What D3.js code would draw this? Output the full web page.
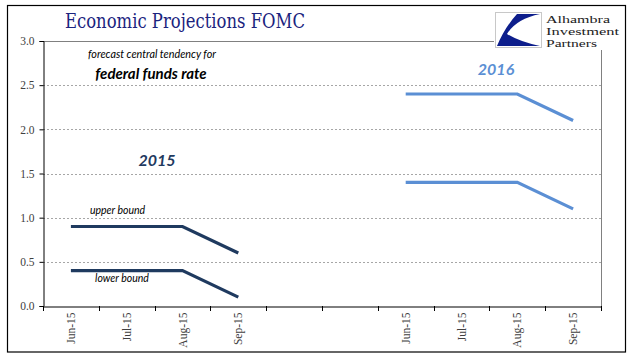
<!DOCTYPE html>
<html><head><meta charset="utf-8">
<script src="https://cdn.jsdelivr.net/npm/d3@7"></script>
<style>body{margin:0;background:#fff}svg{display:block}</style>
</head><body><svg id="c" width="641" height="358"></svg>
<script>
const categories = ["Jun-15","Jul-15","Aug-15","Sep-15","","","Jun-15","Jul-15","Aug-15","Sep-15"];
const yTicks = [0,0.5,1.0,1.5,2.0,2.5,3.0];
const upper2015 = [0.9,0.9,0.9,0.6];
const lower2015 = [0.4,0.4,0.4,0.1];
const upper2016 = [2.4,2.4,2.4,2.1];
const lower2016 = [1.4,1.4,1.4,1.1];
const idx2015 = [0,1,2,3];
const idx2016 = [6,7,8,9];

const svg = d3.select("#c");
const L=43,R=601,T=41,B=306;
svg.append("rect").attr("x",7.5).attr("y",5.5).attr("width",618).attr("height",346.5).attr("fill","none").attr("stroke","#000").attr("stroke-width",1.2);

const x = d3.scaleBand().domain(d3.range(categories.length)).range([L,R]);
const y = d3.scaleLinear().domain([0,3]).range([B,T]);

// gridlines
svg.append("g").selectAll("line").data(yTicks.filter(v=>v>0&&v<3)).join("line")
  .attr("x1",L).attr("x2",R).attr("y1",d=>Math.round(y(d))+0.5).attr("y2",d=>Math.round(y(d))+0.5)
  .attr("stroke","#a6a6a6").attr("stroke-dasharray","2,2").attr("stroke-width",1);
// top and right plot border
svg.append("line").attr("x1",L).attr("x2",494).attr("y1",T+0.5).attr("y2",T+0.5).attr("stroke","#808080");
svg.append("line").attr("x1",R+0.5).attr("x2",R+0.5).attr("y1",50).attr("y2",B).attr("stroke","#808080");

// y axis
const ya = svg.append("g").attr("transform",`translate(${L+0.5},0)`)
  .call(d3.axisLeft(y).tickValues(yTicks).tickFormat(d3.format(".1f")).tickSize(4));
ya.select(".domain").attr("stroke","#000");
ya.selectAll(".tick line").attr("stroke","#000");
ya.selectAll("text").attr("font-family","Liberation Serif").attr("font-size",11.5).attr("fill","#404040").attr("dx",-2);

// x axis
const xa = svg.append("g").attr("transform",`translate(0,${B+0.5})`)
  .call(d3.axisBottom(x).tickSize(0).tickFormat(i=>categories[i]));
xa.select(".domain").attr("stroke","#000");
xa.selectAll(".tick text").attr("font-family","Liberation Serif").attr("font-size",11.5).attr("fill","#404040")
  .attr("transform","rotate(-90)").attr("text-anchor","end").attr("x",-6).attr("y",0).attr("dy","0.35em");
const bounds = d3.range(categories.length+1).map(i=>L+i*x.step());
svg.append("g").selectAll("line").data(bounds).join("line")
  .attr("x1",d=>Math.round(d)+0.5).attr("x2",d=>Math.round(d)+0.5).attr("y1",B).attr("y2",B+5).attr("stroke","#000");

const line = d3.line().x(d=>x(d[0])+x.bandwidth()/2).y(d=>y(d[1]));
function draw(idx,vals,col){
  svg.append("path").attr("d",line(idx.map((k,i)=>[k,vals[i]]))).attr("fill","none").attr("stroke",col).attr("stroke-width",3.2);
}
draw(idx2015,upper2015,"#1f3a5f");
draw(idx2015,lower2015,"#1f3a5f");
draw(idx2016,upper2016,"#5b8fd4");
draw(idx2016,lower2016,"#5b8fd4");

// title
svg.append("text").attr("x",65).attr("y",28).attr("font-family","DejaVu Serif").attr("font-size",19.5).attr("fill","#1a237e")
  .attr("textLength",240).attr("lengthAdjust","spacingAndGlyphs").text("Economic Projections FOMC");

// annotations
svg.append("text").attr("x",152).attr("y",58).attr("text-anchor","middle").attr("font-family","Lato").attr("font-style","italic").attr("font-size",10.8).attr("fill","#000").text("forecast central tendency for");
svg.append("text").attr("x",151).attr("y",79).attr("text-anchor","middle").attr("font-family","Lato").attr("font-style","italic").attr("font-weight","bold").attr("font-size",15).attr("fill","#000").text("federal funds rate");
svg.append("text").attr("x",157).attr("y",166).attr("text-anchor","middle").attr("font-family","Lato").attr("font-style","italic").attr("font-weight","bold").attr("font-size",16).attr("fill","#1f3a5f").text("2015");
svg.append("text").attr("x",496).attr("y",75).attr("text-anchor","middle").attr("font-family","Lato").attr("font-style","italic").attr("font-weight","bold").attr("font-size",16).attr("fill","#5b8fd4").text("2016");
svg.append("text").attr("x",117.5).attr("y",214).attr("text-anchor","middle").attr("font-family","Lato").attr("font-style","italic").attr("font-size",10.5).attr("fill","#000").text("upper bound");
svg.append("text").attr("x",122).attr("y",282).attr("text-anchor","middle").attr("font-family","Lato").attr("font-style","italic").attr("font-size",10.5).attr("fill","#000").text("lower bound");

// logo
const lg = svg.append("g");
lg.append("rect").attr("x",495.5).attr("y",12.5).attr("width",46).attr("height",35).attr("fill","#fff").attr("stroke","#c8c8c8");
lg.append("path").attr("d","M517,14 L540,14 Q516,19 507,34 Q520,42 540,46 L497,46 Q505,27 517,14 Z").attr("fill","#0d1e8c");
const lt = ["Alhambra","Investment","Partners"];
const lw = [64,73,51];
lg.selectAll("text.l").data(lt).join("text").attr("class","l").attr("x",546).attr("y",(d,i)=>22.5+i*12.2)
  .attr("font-family","Liberation Serif").attr("font-size",10.8).attr("fill","#222")
  .attr("textLength",(d,i)=>lw[i]).attr("lengthAdjust","spacingAndGlyphs").text(d=>d);
</script></body></html>
